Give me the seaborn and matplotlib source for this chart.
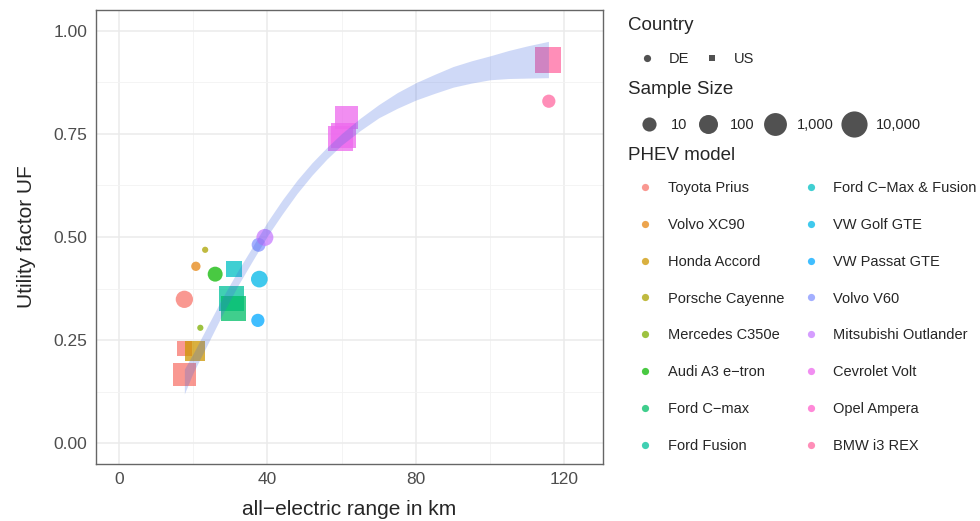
import numpy as np
import pandas as pd
import matplotlib
matplotlib.use("Agg")
import matplotlib.pyplot as plt
import seaborn as sns
from matplotlib.colors import LogNorm
from matplotlib.lines import Line2D

# PHEV models, in legend order
models = ["Toyota Prius", "Volvo XC90", "Honda Accord", "Porsche Cayenne",
          "Mercedes C350e", "Audi A3 e\u2212tron", "Ford C\u2212max", "Ford Fusion",
          "Ford C\u2212Max & Fusion", "VW Golf GTE", "VW Passat GTE", "Volvo V60",
          "Mitsubishi Outlander", "Cevrolet Volt", "Opel Ampera", "BMW i3 REX"]

# one entry per observation
model = ["Toyota Prius", "Toyota Prius", "Toyota Prius", "Volvo XC90", "Honda Accord",
         "Porsche Cayenne", "Mercedes C350e", "Audi A3 e\u2212tron", "Ford Fusion",
         "Ford C\u2212max", "Ford C\u2212Max & Fusion", "VW Golf GTE", "VW Passat GTE",
         "Volvo V60", "Mitsubishi Outlander", "Cevrolet Volt", "Cevrolet Volt",
         "Cevrolet Volt", "BMW i3 REX", "BMW i3 REX"]
country = ["DE", "US", "US", "DE", "US", "DE", "DE", "DE", "US", "US",
           "US", "DE", "DE", "DE", "DE", "US", "US", "US", "US", "DE"]
range_km = [17.6, 17.6, 17.6, 20.7, 20.5, 23.2, 21.9, 25.9, 30.3, 30.8,
            30.9, 37.8, 37.4, 37.6, 39.3, 61.3, 59.8, 60.6, 115.7, 115.8]
uf = [0.349, 0.231, 0.166, 0.429, 0.223, 0.469, 0.280, 0.410, 0.351, 0.327,
      0.423, 0.398, 0.298, 0.481, 0.499, 0.789, 0.738, 0.745, 0.929, 0.829]
sample_n = [41, 14, 1300, 2, 170, 1, 1, 14, 4300, 5000,
            22, 31, 7, 9, 35, 1300, 4300, 4300, 8800, 7]

# confidence band of the fitted curve
band_km = [17.6, 20, 24, 28, 32, 36, 40, 44, 48, 52, 56, 60,
           65, 70, 75, 80, 85, 90, 95, 100, 105, 110, 115.7]
band_lo = [0.120, 0.172, 0.243, 0.315, 0.382, 0.443, 0.503, 0.556, 0.606, 0.650, 0.689, 0.723,
           0.758, 0.789, 0.812, 0.832, 0.848, 0.863, 0.873, 0.881, 0.884, 0.885, 0.886]
band_hi = [0.180, 0.218, 0.287, 0.355, 0.418, 0.477, 0.537, 0.590, 0.638, 0.680, 0.717, 0.751,
           0.788, 0.821, 0.850, 0.874, 0.894, 0.913, 0.927, 0.939, 0.952, 0.963, 0.974]

size_breaks = [10, 100, 1000, 10000]
size_labels = ["10", "100", "1,000", "10,000"]
xticks = [0, 40, 80, 120]
yticks = [0, 0.25, 0.5, 0.75, 1.0]
ytick_labels = ["0.00", "0.25", "0.50", "0.75", "1.00"]


def hcl_hex(h, c=100, l=65):
    # R's hcl() -> sRGB, to get the ggplot hue palette
    hr = np.deg2rad(h)
    U, V = c * np.cos(hr), c * np.sin(hr)
    Xn, Yn, Zn = 0.95047, 1.0, 1.08883
    un = 4 * Xn / (Xn + 15 * Yn + 3 * Zn)
    vn = 9 * Yn / (Xn + 15 * Yn + 3 * Zn)
    Y = Yn * ((l + 16) / 116) ** 3
    u = U / (13 * l) + un
    v = V / (13 * l) + vn
    X = Y * 9 * u / (4 * v)
    Z = Y * (12 - 3 * u - 20 * v) / (4 * v)
    rgb = np.array([3.240479 * X - 1.537150 * Y - 0.498535 * Z,
                    -0.969256 * X + 1.875992 * Y + 0.041556 * Z,
                    0.055648 * X - 0.204043 * Y + 1.057311 * Z])
    rgb = np.where(rgb > 0.0031308, 1.055 * np.abs(rgb) ** (1 / 2.4) - 0.055, 12.92 * rgb)
    return matplotlib.colors.to_hex(np.clip(rgb, 0, 1))


hues = 15 + 360 / len(models) * np.arange(len(models))
palette = dict(zip(models, [hcl_hex(h) for h in hues]))

df = pd.DataFrame({"model": model, "country": country, "range_km": range_km,
                   "uf": uf, "n": sample_n})

sns.set_style("whitegrid")
plt.rcParams["font.family"] = ["Liberation Sans", "DejaVu Sans"]

fig = plt.figure(figsize=(9.8, 5.21), dpi=100)
ax = fig.add_axes([0.098, 0.1094, 0.5173, 0.8714])

size_norm = LogNorm(1, 20000)
size_range = (20, 380)
sns.scatterplot(data=df, x="range_km", y="uf", hue="model", hue_order=models, palette=palette,
                style="country", markers={"DE": "o", "US": "s"}, size="n",
                sizes=size_range, size_norm=size_norm, alpha=0.75, linewidth=0,
                legend=False, ax=ax, zorder=3)

# smoothing band sits on top of the points, like the geom_smooth layer
ax.fill_between(band_km, band_lo, band_hi, color="#4169E1", alpha=0.25, linewidth=0, zorder=4)

ax.set_xlim(-6.2, 130.4)
ax.set_ylim(-0.05, 1.05)
ax.set_xticks(xticks)
ax.set_xticks([20, 60, 100], minor=True)
ax.set_yticks(yticks)
ax.set_yticklabels(ytick_labels)
ax.set_yticks([0.125, 0.375, 0.625, 0.875], minor=True)
ax.grid(which="major", color="#EBEBEB", linewidth=1.1)
ax.grid(which="minor", color="#F3F3F3", linewidth=0.6)
ax.set_axisbelow(True)
for sp in ax.spines.values():
    sp.set_color("#666666")
    sp.set_linewidth(1.0)
ax.tick_params(which="major", length=3.6, width=0.9, color="#333333",
               labelcolor="#4D4D4D", labelsize=12.5, pad=2.5)
ax.tick_params(which="minor", length=0)
ax.set_xlabel("all\u2212electric range in km", fontsize=15, labelpad=9)
ax.set_ylabel("Utility factor UF", fontsize=15, labelpad=13)

# legends, ggplot style
fs = 10.5
def fx(px):
    return px / 980
def fy(py):
    return 1 - py / 521

fig.text(fx(628), fy(26), "Country", fontsize=13.5, va="center", ha="left")
fig.text(fx(628), fy(90), "Sample Size", fontsize=13.5, va="center", ha="left")
fig.text(fx(628), fy(155), "PHEV model", fontsize=13.5, va="center", ha="left")

key_grey = "#333333"
h_country = [Line2D([], [], marker="o", ls="", color=key_grey, alpha=0.85, markersize=5.2, mew=0),
             Line2D([], [], marker="s", ls="", color=key_grey, alpha=0.85, markersize=4.8, mew=0)]
fig.legend(h_country, ["DE", "US"], ncol=2, loc="center left", bbox_to_anchor=(fx(640), fy(59)),
           frameon=False, fontsize=fs, handlelength=1.0, handletextpad=1.0, columnspacing=1.06,
           borderpad=0, borderaxespad=0)

h_size = [Line2D([], [], marker="o", ls="", color=key_grey, alpha=0.85, mew=0,
                 markersize=np.sqrt(size_range[0] + (size_range[1] - size_range[0]) * size_norm(b)))
          for b in size_breaks]
fig.legend(h_size, size_labels, ncol=4, loc="center left", bbox_to_anchor=(fx(642), fy(125)),
           frameon=False, fontsize=fs, handlelength=1.0, handletextpad=1.0, columnspacing=0.9,
           borderpad=0, borderaxespad=0)

h_model = [Line2D([], [], marker="o", ls="", color=palette[m], alpha=0.75, markersize=5.2, mew=0)
           for m in models]
fig.legend(h_model, models, ncol=2, loc="center left", bbox_to_anchor=(fx(638), fy(317)),
           frameon=False, fontsize=fs, handlelength=1.0, handletextpad=1.07, columnspacing=1.28,
           labelspacing=1.57, borderpad=0, borderaxespad=0)

fig.savefig("out.png", dpi=100)
